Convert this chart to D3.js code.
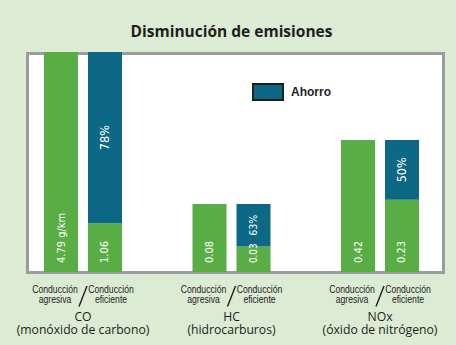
<!DOCTYPE html>
<html>
<head>
<meta charset="utf-8">
<script src="https://cdn.jsdelivr.net/npm/d3@7"></script>
<style>
  html, body { margin: 0; padding: 0; background: #dcebd3; }
  svg { display: block; }
</style>
</head>
<body>
<div id="chart"></div>
<script>
// Emission data (g/km) for aggressive vs efficient driving
const pollutants = ["CO", "HC", "NOx"];
const pollutantNames = ["(monóxido de carbono)", "(hidrocarburos)", "(óxido de nitrógeno)"];
const aggressive = [4.79, 0.08, 0.42];
const efficient = [1.06, 0.03, 0.23];
const savingPct = [78, 63, 50];
const aggressiveLabels = ["4.79 g/km", "0.08", "0.42"];
const efficientLabels = ["1.06", "0.03", "0.23"];
const styles = ["agresiva", "eficiente"];
const styleLabels = [["Conducción", "agresiva"], ["Conducción", "eficiente"]];
const legendLabel = "Ahorro";
const title = "Disminución de emisiones";

// Layout
const W = 456, H = 345;
const plot = { x: 26, y: 52, w: 419, h: 222 };
const baseY = 272;
// each pollutant is drawn on its own vertical scale; pixel height of the full bar
const barSpan = [220, 68, 132];
const green = "#59ad45", blue = "#0c6884", ink = "#1e1e1e";
const sans = "'Liberation Sans', Arial, sans-serif";
const condensed = "'DejaVu Sans Condensed', sans-serif";

const svg = d3.select("#chart").append("svg")
  .attr("width", W).attr("height", H);

svg.append("rect").attr("width", W).attr("height", H).attr("fill", "#dcebd3");

svg.append("text")
  .attr("x", 231.5).attr("y", 37)
  .attr("text-anchor", "middle")
  .attr("font-family", "'Open Sans', sans-serif")
  .attr("font-weight", 700)
  .attr("font-size", 15.5)
  .attr("fill", ink)
  .text(title);

svg.append("rect")
  .attr("x", plot.x + 1.5).attr("y", plot.y + 1.5)
  .attr("width", plot.w - 3).attr("height", plot.h - 3)
  .attr("fill", "#ffffff")
  .attr("stroke", "#9c9c9c").attr("stroke-width", 3);

const x = d3.scalePoint().domain(pollutants).range([83, 380]);
const inner = d3.scaleBand().domain(styles).range([-39, 39]).paddingInner(0.227);
const bw = inner.bandwidth();

const data = pollutants.map((p, i) => ({
  p, i,
  agg: aggressive[i], eff: efficient[i], pct: savingPct[i],
  aggLabel: aggressiveLabels[i], effLabel: efficientLabels[i],
  name: pollutantNames[i],
  y: d3.scaleLinear().domain([0, aggressive[i]]).range([baseY, baseY - barSpan[i]])
}));

const groups = svg.selectAll("g.group")
  .data(data)
  .join("g")
  .attr("class", "group")
  .attr("transform", d => `translate(${x(d.p)},0)`);

// aggressive bar
groups.append("rect")
  .attr("x", inner("agresiva")).attr("width", bw)
  .attr("y", d => d.y(d.agg)).attr("height", d => d.y(0) - d.y(d.agg))
  .attr("fill", green);

// efficient bar: remaining emission (green) + saving (blue)
groups.append("rect")
  .attr("x", inner("eficiente")).attr("width", bw)
  .attr("y", d => d.y(d.eff)).attr("height", d => d.y(0) - d.y(d.eff))
  .attr("fill", green);
groups.append("rect")
  .attr("x", inner("eficiente")).attr("width", bw)
  .attr("y", d => d.y(d.agg)).attr("height", d => d.y(d.eff) - d.y(d.agg))
  .attr("fill", blue);

// vertical white label, shrunk (down to a floor) when it would not fit its segment
function vText(cx, cy, anchor, size, txt, maxLen) {
  groups.each(function (d) {
    const t = d3.select(this).append("text")
      .attr("transform", `translate(${cx(d)},${cy(d)}) rotate(-90)`)
      .attr("text-anchor", anchor)
      .attr("dominant-baseline", "central")
      .attr("font-family", condensed)
      .attr("font-size", size)
      .attr("fill", "#ffffff")
      .text(txt(d));
    const len = t.node().getComputedTextLength();
    const room = maxLen(d);
    if (len > room) t.attr("font-size", Math.max(9, size * room / len));
  });
}

const effX = () => inner("eficiente") + bw / 2;
vText(() => inner("agresiva") + bw / 2, d => d.y(0) - 9, "start", 11,
  d => d.aggLabel, d => d.y(0) - d.y(d.agg) - 6);
vText(effX, d => d.y(0) - 9, "start", 11,
  d => d.effLabel, d => d.y(0) - d.y(d.eff) - 6);
vText(effX, d => (d.y(d.eff) + d.y(d.agg)) / 2, "middle", 12.5,
  d => d.pct + "%", d => (d.y(d.eff) - d.y(d.agg)) * 0.5);

// driving style labels: horizontally compressed sans, with a separating slash
styles.forEach((s, k) => {
  const dx = k === 0 ? -28 : 28;
  styleLabels[k].forEach((line, j) => {
    groups.append("text")
      .attr("transform", `translate(${dx},${293 + j * 9.5}) scale(0.84,1)`)
      .attr("text-anchor", "middle")
      .attr("font-family", sans)
      .attr("font-size", 10.3)
      .attr("fill", ink)
      .text(line);
  });
});
groups.append("line")
  .attr("x1", -4).attr("y1", 306.5)
  .attr("x2", 4).attr("y2", 286)
  .attr("stroke", ink).attr("stroke-width", 1.4);

groups.append("text")
  .attr("x", 0).attr("y", 320.5)
  .attr("text-anchor", "middle")
  .attr("font-family", "'Open Sans', sans-serif")
  .attr("font-size", 12.2)
  .attr("fill", ink)
  .text(d => d.p);
groups.append("text")
  .attr("x", 0).attr("y", 334)
  .attr("text-anchor", "middle")
  .attr("font-family", "'Open Sans', sans-serif")
  .attr("font-size", 12.2)
  .attr("fill", ink)
  .text(d => d.name);

// legend
const legend = svg.append("g").attr("transform", "translate(252,83)");
legend.append("rect")
  .attr("x", 1).attr("y", 1).attr("width", 30).attr("height", 16)
  .attr("fill", blue).attr("stroke", "#1f1f1f").attr("stroke-width", 2);
legend.append("text")
  .attr("x", 39).attr("y", 13)
  .attr("font-family", sans)
  .attr("font-weight", 700)
  .attr("font-size", 12)
  .attr("fill", ink)
  .text(legendLabel);
</script>
</body>
</html>
